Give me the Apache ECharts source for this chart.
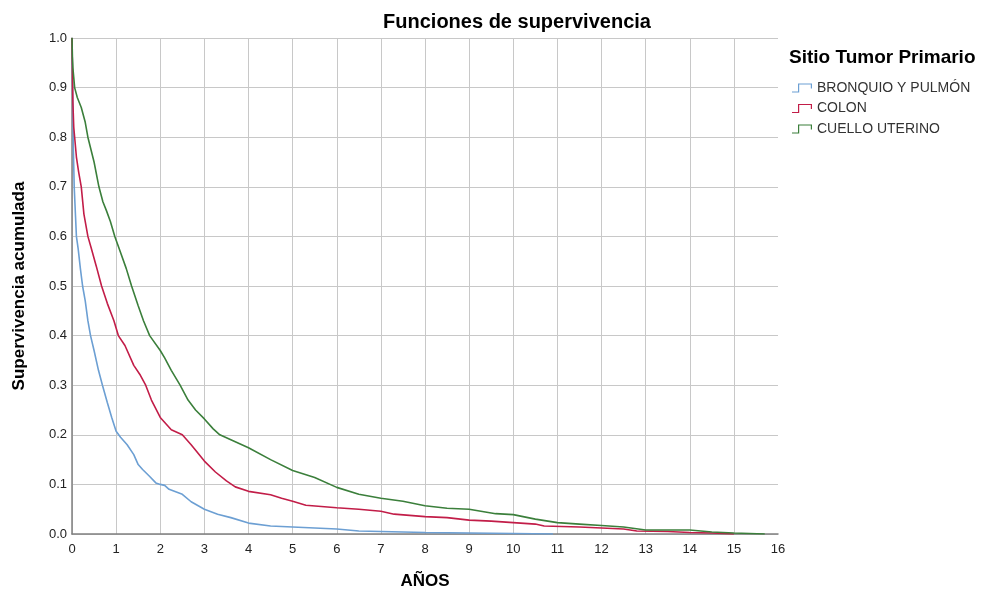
<!DOCTYPE html>
<html>
<head>
<meta charset="utf-8">
<script src="https://cdn.jsdelivr.net/npm/echarts@6/dist/echarts.min.js"></script>
<style>
html,body{margin:0;padding:0;background:#fff;}
#chart{width:991px;height:595px;}
</style>
</head>
<body>
<div id="chart"></div>
<script>
const chartTitle = 'Funciones de supervivencia';
const legendTitle = 'Sitio Tumor Primario';
const xName = 'AÑOS';
const yName = 'Supervivencia acumulada';
const seriesNames = ['BRONQUIO Y PULMÓN', 'COLON', 'CUELLO UTERINO'];
const xTicks = [0, 16, 1];
const yTicks = [0, 1, 0.1];

const bronquio = [
  [0, 1.0], [0.01, 0.93], [0.02, 0.85], [0.03, 0.78], [0.05, 0.70], [0.08, 0.64], [0.1, 0.60],
  [0.14, 0.575], [0.19, 0.535], [0.24, 0.50], [0.3, 0.47], [0.36, 0.43], [0.42, 0.40],
  [0.5, 0.37], [0.6, 0.33], [0.69, 0.30], [0.8, 0.265], [0.9, 0.235], [1.0, 0.207],
  [1.1, 0.195], [1.25, 0.18], [1.4, 0.16], [1.5, 0.14], [1.6, 0.13], [1.75, 0.117],
  [1.9, 0.103], [2.0, 0.10], [2.1, 0.098], [2.2, 0.09], [2.5, 0.08], [2.7, 0.065],
  [3.0, 0.05], [3.3, 0.04], [3.6, 0.033], [4.0, 0.022], [4.5, 0.016], [5.0, 0.014],
  [5.5, 0.012], [6.0, 0.01], [6.5, 0.006], [7.0, 0.005], [8.0, 0.003], [9.0, 0.002],
  [10.0, 0.001], [10.9, 0.0]
];
const colon = [
  [0, 1.0], [0.01, 0.93], [0.02, 0.87], [0.04, 0.82], [0.06, 0.80], [0.1, 0.76], [0.15, 0.73],
  [0.21, 0.70], [0.27, 0.645], [0.36, 0.60], [0.44, 0.575], [0.55, 0.54], [0.67, 0.50],
  [0.8, 0.465], [0.95, 0.43], [1.05, 0.40], [1.2, 0.38], [1.4, 0.34], [1.55, 0.32],
  [1.67, 0.30], [1.8, 0.27], [2.0, 0.235], [2.25, 0.21], [2.5, 0.20], [2.7, 0.18],
  [3.0, 0.147], [3.25, 0.125], [3.5, 0.107], [3.7, 0.095], [4.0, 0.086], [4.5, 0.079],
  [4.75, 0.072], [5.0, 0.066], [5.3, 0.058], [6.0, 0.053], [6.5, 0.05], [7.0, 0.046],
  [7.3, 0.04], [8.0, 0.035], [8.5, 0.033], [9.0, 0.028], [9.5, 0.026], [10.0, 0.023],
  [10.5, 0.02], [10.7, 0.016], [11.5, 0.014], [12.0, 0.012], [12.5, 0.01], [12.8, 0.006],
  [13.5, 0.005], [14.0, 0.003], [14.5, 0.002], [15.0, 0.0]
];
const cuello = [
  [0, 1.0], [0.01, 0.96], [0.02, 0.94], [0.04, 0.92], [0.06, 0.90], [0.12, 0.88], [0.21, 0.86],
  [0.3, 0.83], [0.36, 0.80], [0.5, 0.75], [0.61, 0.70], [0.7, 0.67], [0.78, 0.652],
  [0.87, 0.63], [0.97, 0.60], [1.07, 0.575], [1.23, 0.535], [1.35, 0.50], [1.5, 0.46],
  [1.62, 0.43], [1.76, 0.40], [2.0, 0.37], [2.1, 0.355], [2.25, 0.33], [2.45, 0.30],
  [2.63, 0.27], [2.8, 0.25], [3.0, 0.232], [3.2, 0.212], [3.35, 0.20], [3.6, 0.19],
  [4.0, 0.174], [4.5, 0.15], [5.0, 0.128], [5.5, 0.114], [6.0, 0.094], [6.5, 0.08],
  [7.0, 0.072], [7.5, 0.066], [8.0, 0.057], [8.5, 0.052], [9.0, 0.05], [9.6, 0.041],
  [10.0, 0.039], [10.5, 0.03], [11.0, 0.023], [11.5, 0.02], [12.0, 0.017], [12.5, 0.014],
  [13.0, 0.008], [14.0, 0.008], [14.5, 0.004], [15.0, 0.002], [15.7, 0.0]
];
const seriesData = [bronquio, colon, cuello];
const seriesColors = ['#6c9fd3', '#c21d48', '#3b7f3b'];

const stepIcon = 'path://M0,8 L6,8 L6,0 L20,0 L20,5 L18.8,5 L18.8,1.2 L7.2,1.2 L7.2,9.2 L0,9.2 Z';
const FONT = '"Liberation Sans", Arial, sans-serif';

const chart = echarts.init(document.getElementById('chart'), null, {renderer: 'canvas'});
chart.setOption({
  animation: false,
  backgroundColor: '#ffffff',
  textStyle: {fontFamily: FONT},
  title: [
    {text: chartTitle, left: 517, top: 12, padding: 0, textAlign: 'center',
     textStyle: {fontFamily: FONT, fontSize: 20, fontWeight: 'bold', color: '#000'}},
    {text: legendTitle, left: 789, top: 48, padding: 0,
     textStyle: {fontFamily: FONT, fontSize: 19, fontWeight: 'bold', color: '#000'}}
  ],
  legend: {
    orient: 'vertical', left: 792, top: 81, padding: 0, itemWidth: 20, itemHeight: 10, itemGap: 6.5,
    icon: stepIcon,
    textStyle: {fontFamily: FONT, fontSize: 14, color: '#333'},
    data: seriesNames
  },
  grid: {left: 72, right: 213, top: 38, bottom: 58, containLabel: false},
  xAxis: {
    type: 'value', min: xTicks[0], max: xTicks[1], interval: xTicks[2],
    name: xName, nameLocation: 'middle', nameGap: 39,
    nameTextStyle: {fontFamily: FONT, fontSize: 17, fontWeight: 'bold', color: '#000'},
    axisLine: {show: true, lineStyle: {color: '#808080', width: 1.5}},
    axisTick: {show: false},
    axisLabel: {margin: 9, fontSize: 13, color: '#222', fontFamily: FONT},
    splitLine: {show: true, showMaxLine: false, lineStyle: {color: '#c8c8c8', width: 1}}
  },
  yAxis: {
    type: 'value', min: yTicks[0], max: yTicks[1], interval: yTicks[2],
    name: yName, nameLocation: 'middle', nameGap: 44, nameRotate: 90,
    nameTextStyle: {fontFamily: FONT, fontSize: 17, fontWeight: 'bold', color: '#000'},
    axisLine: {show: true, lineStyle: {color: '#808080', width: 1.5}},
    axisTick: {show: false},
    axisLabel: {margin: 5, fontSize: 13, color: '#222', fontFamily: FONT,
      formatter: v => v.toFixed(1)},
    splitLine: {show: true, lineStyle: {color: '#c8c8c8', width: 1}}
  },
  series: seriesNames.map((n, i) => ({
    name: n, type: 'line', data: seriesData[i], showSymbol: false, symbol: 'none',
    itemStyle: {color: seriesColors[i]},
    lineStyle: {color: seriesColors[i], width: 1.6}
  }))
});
</script>
</body>
</html>
